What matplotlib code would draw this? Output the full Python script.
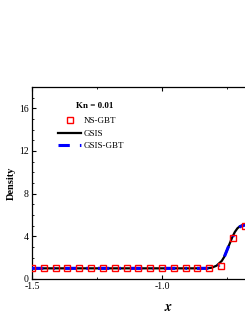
import matplotlib
matplotlib.use("Agg")
import matplotlib.pyplot as plt
from matplotlib.ticker import MultipleLocator

plt.rcParams["font.family"] = ["Liberation Serif", "DejaVu Serif"]
plt.rcParams["mathtext.fontset"] = "stix"

# NS-GBT (markers)
x_ns = [-1.5 + k / 22 for k in range(19)]
rho_ns = [1.0, 1.0, 1.0, 1.0, 1.0, 1.0, 1.0, 1.0, 1.0, 1.0,
          1.0, 1.0, 1.0, 1.0, 1.0, 1.0, 1.2, 3.8, 5.0]

# GSIS (solid black)
x_gsis = [-1.5, -0.83, -0.81, -0.79, -0.77, -0.76, -0.75, -0.74,
          -0.73, -0.72, -0.71, -0.70, -0.69, -0.68, -0.66]
rho_gsis = [1.0, 1.0, 1.05, 1.25, 1.7, 2.1, 2.7, 3.3,
            3.9, 4.4, 4.75, 4.95, 5.05, 5.1, 5.1]

# GSIS-GBT (blue dash-dot)
x_gbt = [-1.5, -0.82, -0.80, -0.78, -0.77, -0.76, -0.75, -0.74,
         -0.73, -0.72, -0.71, -0.70, -0.69, -0.68, -0.66]
rho_gbt = [1.0, 1.0, 1.05, 1.3, 1.65, 2.1, 2.7, 3.3,
           3.85, 4.35, 4.7, 4.9, 5.0, 5.05, 5.05]

W, H = 245, 317
fig = plt.figure(figsize=(W / 100, H / 100), dpi=100)
# axes reach past the right edge of the figure (reference is a crop)
ax = fig.add_axes([32 / W, 38 / H, 273 / W, 192 / H])

ax.plot(x_gsis, rho_gsis, color="black", lw=1.6, label="GSIS", zorder=2)
ax.plot(x_gbt, rho_gbt, color="blue", lw=2.2, ls=(0, (3.7, 3.3, 0.5, 3.3)),
        label="GSIS-GBT", zorder=3)
ax.plot(x_ns, rho_ns, ls="none", marker="s", ms=4.5, mfc="none",
        mec="red", mew=1.0, label="NS-GBT", zorder=4)

ax.set_xlim(-1.5, -0.45)
ax.set_ylim(0, 18)
ax.xaxis.set_major_locator(MultipleLocator(0.5))
ax.xaxis.set_minor_locator(MultipleLocator(0.25))
ax.yaxis.set_major_locator(MultipleLocator(4))
ax.yaxis.set_minor_locator(MultipleLocator(1))
ax.xaxis.set_major_formatter(lambda v, p: "{:.1f}".format(v))
ax.tick_params(which="both", direction="in", top=True, labelsize=7, pad=2.5)
ax.tick_params(which="major", length=3, width=0.8)
ax.tick_params(which="minor", length=1.6, width=0.6)
for s in ax.spines.values():
    s.set_linewidth(0.9)

ax.set_ylabel("Density", fontsize=7.5, fontweight="bold")
ax.yaxis.set_label_coords(-0.06, 0.5)
ax.set_xlabel("$\\boldsymbol{x}$", fontsize=10)
ax.xaxis.set_label_coords(0.5, -0.115)

fig.text(76 / W, 1 - 106 / H, "Kn = 0.01", fontsize=6.5, fontweight="bold",
         va="center", ha="left")
h, l = ax.get_legend_handles_labels()
order = [2, 0, 1]
ax.legend([h[i] for i in order], [l[i] for i in order],
          loc="upper left", bbox_to_anchor=((58 - 32) / 273, (279 - 117) / 192),
          frameon=False, fontsize=6.5, handlelength=2.6,
          handletextpad=0.2, labelspacing=0.45, borderaxespad=0,
          borderpad=0)

fig.savefig("out.png", dpi=100)
